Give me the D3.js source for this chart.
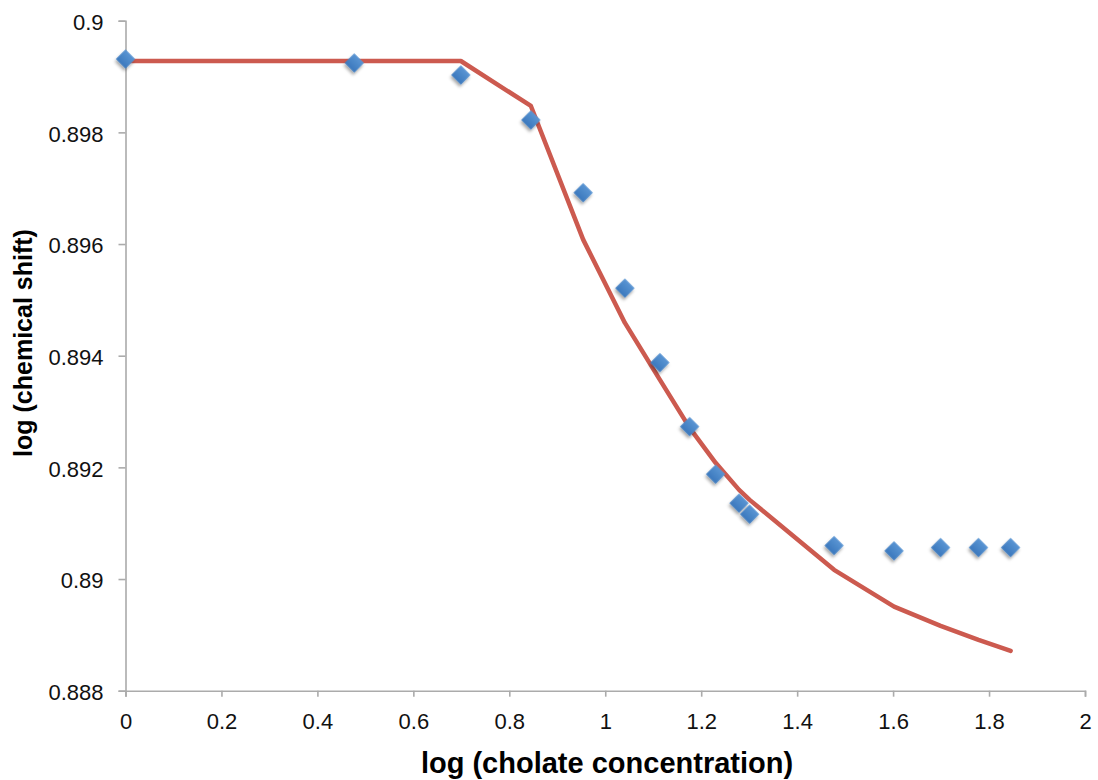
<!DOCTYPE html>
<html>
<head>
<meta charset="utf-8">
<script src="https://cdn.jsdelivr.net/npm/d3@7"></script>
<style>
  html, body { margin: 0; padding: 0; background: #fff; }
  svg { display: block; font-family: "Liberation Sans", Arial, sans-serif; }
</style>
</head>
<body>
<svg id="chart" width="1098" height="780"></svg>
<script>
// log of cholate concentration (x) for each measurement
const logConc = [0, 0.477, 0.699, 0.845, 0.954, 1.041, 1.114, 1.176, 1.230, 1.279, 1.301, 1.477, 1.602, 1.699, 1.778, 1.845];
// measured log chemical shift
const measured = [0.899314, 0.899243, 0.899028, 0.898222, 0.896920, 0.895209, 0.893877, 0.892730, 0.891878, 0.891359, 0.891162, 0.890600, 0.890505, 0.890564, 0.890564, 0.890564];
// fitted model curve at the same concentrations
const fitted = [0.899278, 0.899278, 0.899278, 0.898473, 0.896079, 0.894587, 0.893567, 0.892707, 0.892081, 0.891597, 0.891418, 0.890165, 0.889507, 0.889162, 0.888911, 0.888714];

const xTicks = [0, 0.2, 0.4, 0.6, 0.8, 1, 1.2, 1.4, 1.6, 1.8, 2];
const yTicks = [0.888, 0.89, 0.892, 0.894, 0.896, 0.898, 0.9];

const svg = d3.select("#chart");
const x = d3.scaleLinear().domain([0, 2]).range([125.5, 1085]);
const y = d3.scaleLinear().domain([0.888, 0.9]).range([690.7, 20.7]);

const axisColor = "#ababab";

// drop shadow for the markers
const defs = svg.append("defs");
const f = defs.append("filter").attr("id", "shadow")
  .attr("x", "-50%").attr("y", "-50%").attr("width", "200%").attr("height", "200%");
f.append("feDropShadow").attr("dx", 1).attr("dy", 2.5).attr("stdDeviation", 1.6)
  .attr("flood-color", "#000").attr("flood-opacity", 0.35);
const grad = defs.append("linearGradient").attr("id", "markerFill")
  .attr("x1", 0).attr("y1", 0).attr("x2", 0).attr("y2", 1);
grad.append("stop").attr("offset", "0%").attr("stop-color", "#5a95d3");
grad.append("stop").attr("offset", "100%").attr("stop-color", "#3b78bd");

// x axis
const xAxis = d3.axisBottom(x).tickValues(xTicks).tickSize(6).tickPadding(17)
  .tickFormat(d => d3.format("")(+d.toFixed(1)));
const gx = svg.append("g").attr("transform", `translate(0,${y(0.888)})`).call(xAxis);
gx.select(".domain").attr("stroke", axisColor).attr("stroke-width", 1.6);
gx.selectAll(".tick line").attr("stroke", axisColor).attr("stroke-width", 1.6);
gx.selectAll(".tick text").attr("fill", "#111").attr("font-size", 22)
  .attr("font-family", "'Liberation Sans', Arial, sans-serif");

// y axis
const yAxis = d3.axisLeft(y).tickValues(yTicks).tickSize(7).tickPadding(15)
  .tickFormat(d => String(+d.toFixed(3)));
const gy = svg.append("g").attr("transform", `translate(${x(0)},0)`).call(yAxis);
gy.select(".domain").attr("stroke", axisColor).attr("stroke-width", 1.6);
gy.selectAll(".tick line").attr("stroke", axisColor).attr("stroke-width", 1.6);
gy.selectAll(".tick text").attr("fill", "#111").attr("font-size", 22)
  .attr("dy", "0.4em")
  .attr("font-family", "'Liberation Sans', Arial, sans-serif");

// fitted curve
const pts = logConc.map((c, i) => [c, fitted[i]]);
svg.append("path")
  .datum(pts)
  .attr("fill", "none")
  .attr("stroke", "#cc5a4f")
  .attr("stroke-width", 4.5)
  .attr("stroke-linejoin", "round")
  .attr("stroke-linecap", "round")
  .attr("d", d3.line().x(d => x(d[0])).y(d => y(d[1])));

// measured points as diamonds
const diamond = d3.symbol().type(d3.symbolSquare).size(185);
svg.append("g").selectAll("path")
  .data(logConc.map((c, i) => [c, measured[i]]))
  .join("path")
  .attr("d", diamond)
  .attr("transform", d => `translate(${x(d[0])},${y(d[1])}) rotate(45)`)
  .attr("fill", "url(#markerFill)")
  .attr("filter", "url(#shadow)");

// axis titles
svg.append("text")
  .attr("x", 607).attr("y", 773)
  .attr("text-anchor", "middle")
  .attr("font-size", 29).attr("font-weight", "bold").attr("fill", "#000")
  .text("log (cholate concentration)");

svg.append("text")
  .attr("transform", "translate(32,343) rotate(-90)")
  .attr("text-anchor", "middle")
  .attr("font-size", 25).attr("font-weight", "bold").attr("fill", "#000")
  .text("log (chemical shift)");
</script>
</body>
</html>
